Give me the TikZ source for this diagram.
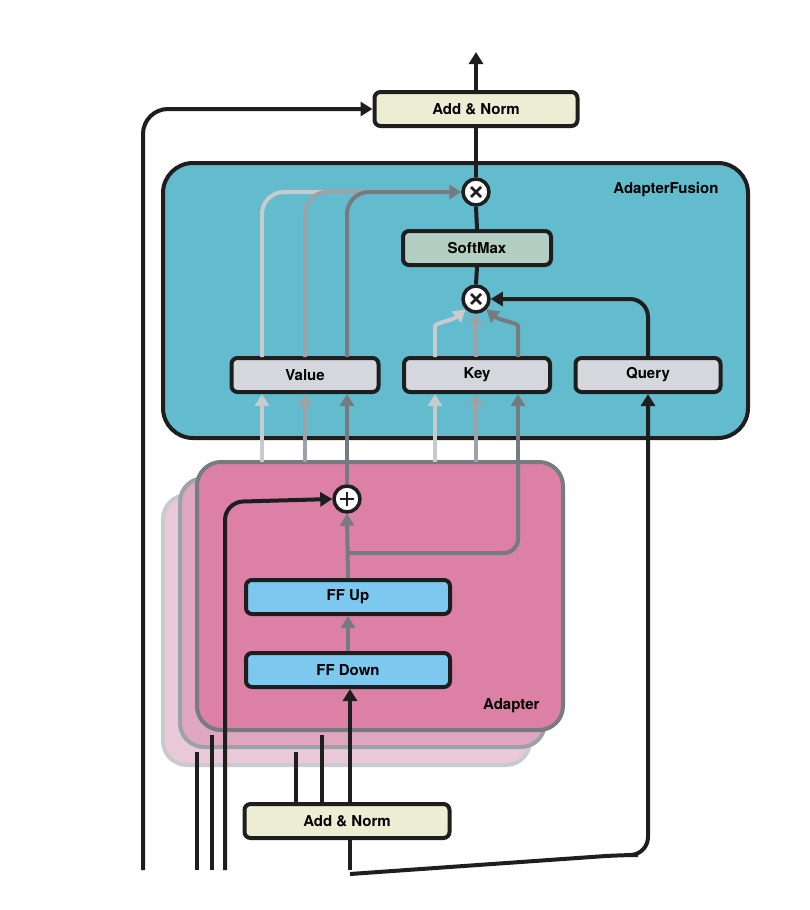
\documentclass[tikz,border=0pt]{standalone}
\usepackage{fontspec}
\setmainfont{TeX Gyre Heros}
\usetikzlibrary{arrows.meta}
\definecolor{fus}{HTML}{62BCCD}
\definecolor{soft}{HTML}{B3CFC3}
\definecolor{qkv}{HTML}{D5D7DC}
\definecolor{norm}{HTML}{EDEDD3}
\definecolor{ff}{HTML}{7DC8EE}
\definecolor{gA}{HTML}{C8CBCE}
\definecolor{gB}{HTML}{9DA2A6}
\definecolor{gC}{HTML}{767B7F}
\definecolor{adA}{HTML}{E9C9D8}
\definecolor{adB}{HTML}{DFA6C0}
\definecolor{adC}{HTML}{DC80A5}
\definecolor{ink}{HTML}{1E1E1E}
\begin{document}
\begin{tikzpicture}[x=1pt,y=-1pt,
  every node/.style={font=\fontsize{15}{18}\selectfont\bfseries},
  blk/.style={draw=ink,line width=4pt,rounded corners=6pt,minimum height=34pt,inner sep=0pt},
  op/.style={circle,draw=ink,line width=3.5pt,fill=white,minimum size=26pt,inner sep=0pt},
  ln/.style={line width=4pt,draw=ink},
  tip/.style={-{Triangle[length=12pt,width=14pt]}},
  gl/.style={line width=4pt,rounded corners=14pt},
]
\useasboundingbox (0,0) rectangle (810,910);
% adapter stack
\draw[draw=gA,fill=adA,line width=4pt,rounded corners=24pt] (163,495) rectangle (530,765);
\draw[draw=gB,fill=adB,line width=4pt,rounded corners=24pt] (180,478) rectangle (545,747);
\draw[draw=gC,fill=adC,line width=4pt,rounded corners=24pt] (197,462) rectangle (563,730);
\node[anchor=east] (adl) at (543,706) {Adapter};
% fusion box
\draw[draw=ink,fill=fus,line width=4pt,rounded corners=30pt] (163,163) rectangle (748,438);
\node[anchor=east] (afl) at (722,190) {AdapterFusion};
% nodes
\node[blk,fill=norm,minimum width=203pt] (an2) at (476,109) {Add \& Norm};
\node[op] (m1) at (476,192) {};
\node[blk,fill=soft,minimum width=148pt] (sm) at (477,248) {SoftMax};
\node[op] (m2) at (476,299) {};
\node[blk,fill=qkv,minimum width=147pt] (val) at (305,375) {Value};
\node[blk,fill=qkv,minimum width=146pt] (key) at (477,375) {Key};
\node[blk,fill=qkv,minimum width=145pt] (qry) at (648,375) {Query};
\node[op] (pl) at (347,499) {};
\node[blk,fill=ff,minimum width=204pt] (ffu) at (348,597) {FF Up};
\node[blk,fill=ff,minimum width=204pt] (ffd) at (348,670) {FF Down};
\node[blk,fill=norm,minimum width=205pt] (an1) at (347,821) {Add \& Norm};
% symbols in ops
\foreach \n in {m1,m2}{\draw[line width=2.5pt,draw=ink] (\n.center)++(-5,-5)--++(10,10) (\n.center)++(-5,5)--++(10,-10);}
\draw[line width=2.5pt,draw=ink] (pl.center)++(-7,0)--++(14,0) (pl.center)++(0,-7)--++(0,14);
% coordinates
\coordinate (top) at (476,52);
\coordinate (lb) at (143,870);
\coordinate (l1) at (197,870); \coordinate (l1t) at (197,752);
\coordinate (l2) at (212,870); \coordinate (l2t) at (212,735);
\coordinate (l3) at (225,870);
\coordinate (bb) at (350,870);
% black lines
\draw[ln,tip] (an2.north) -- (top);
\draw[ln] (an2.south) -- (m1.north);
\draw[ln] (m1.south) -- (sm.north);
\draw[ln] (sm.south) -- (m2.north);
\draw[ln,tip,rounded corners=25pt] (lb) -- (143,109) -- (an2.west);
\draw[ln,tip,rounded corners=18pt] (qry.north) -- (648,299) -- (m2.east);
\draw[ln,tip,rounded corners=18pt] (bb |- an1.south) ++(0,34) -- (620,855) -- (648,855)  -- (qry.south);
\draw[ln] (bb) -- (bb |- an1.south);
\draw[ln] (l1) -- (l1t);
\draw[ln] (l2) -- (l2t);
\draw[ln,tip,rounded corners=18pt] (l3) -- (225,502) -- (pl.west);
\draw[ln,tip] (350,803) -- (350,689);
\draw[ln] (296,803) -- (296,752);
\draw[ln] (322,803) -- (322,735);
% adapter grey lines
\draw[gl,draw=gC,tip] (ffd.north) -- (ffu.south);
\draw[gl,draw=gC,tip] (ffu.north) -- (pl.south);
\draw[gl,draw=gC] (347,553) -- (518,553) -- (518,462);
% into value / key
\draw[gl,draw=gA,tip] (262,462) -- (val.south -| 262,0);
\draw[gl,draw=gB,tip] (305,462) -- (val.south -| 305,0);
\draw[gl,draw=gC,tip] (pl.north) -- (val.south -| 347,0);
\draw[gl,draw=gA,tip] (435,462) -- (key.south -| 435,0);
\draw[gl,draw=gB,tip] (476,462) -- (key.south -| 476,0);
\draw[gl,draw=gC,tip] (518,462) -- (key.south -| 518,0);
% value to m1
\draw[gl,draw=gA,rounded corners=22pt] (262,357) -- (262,192) -- (440,192);
\draw[gl,draw=gB,rounded corners=22pt] (305,357) -- (305,192) -- (440,192);
\draw[gl,draw=gC,tip,rounded corners=22pt] (347,357) -- (347,192) -- (m1.west);
% key to m2
\draw[gl,draw=gA,tip] (435,357) -- (435,340) to[out=90,in=220] (m2.south west);
\draw[gl,draw=gB,tip] (476,357) -- (m2.south);
\draw[gl,draw=gC,tip] (518,357) -- (518,340) to[out=90,in=-40] (m2.south east);
\end{tikzpicture}
\end{document}
